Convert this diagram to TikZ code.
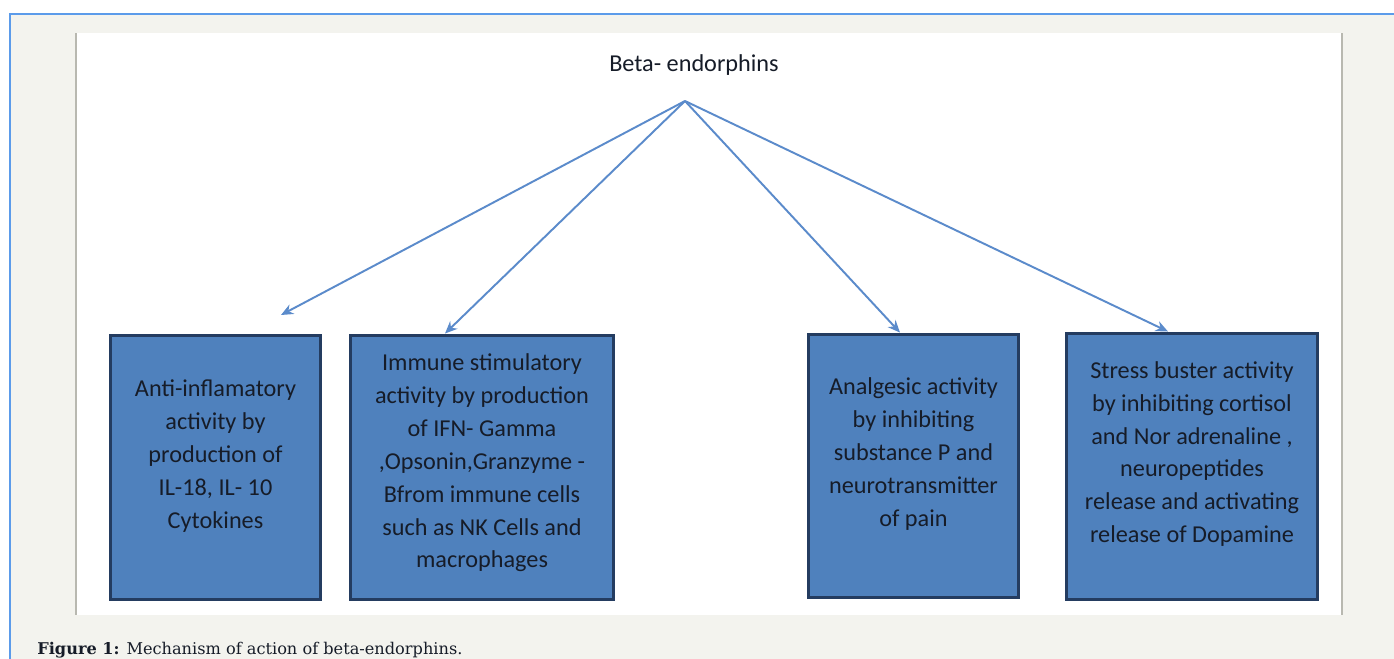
\documentclass[tikz,border=0pt]{standalone}
\usepackage{fontspec}
\setmainfont{Carlito}
\newfontfamily\capfont{DejaVu Serif}
\usetikzlibrary{arrows.meta,positioning}
\definecolor{frameblue}{RGB}{91,155,234}
\definecolor{pagegray}{RGB}{243,243,238}
\definecolor{edgegray}{RGB}{184,184,176}
\definecolor{boxblue}{RGB}{79,129,189}
\definecolor{boxedge}{RGB}{36,60,96}
\definecolor{arrowblue}{RGB}{91,139,203}
\definecolor{inkdark}{RGB}{22,28,40}

\begin{document}
\begin{tikzpicture}[x=0.02cm, y=-0.02cm, >={Stealth[length=7pt,width=6pt]},
  effect/.style={draw=boxedge, line width=1.7pt, fill=boxblue, inner sep=0pt},
  effecttext/.style={align=center, text=inkdark, font=\fontsize{13.8}{18.7}\selectfont},
  link/.style={->, draw=arrowblue, line width=1.1pt}]
\useasboundingbox (0,0) rectangle (1394,659);
% page and figure panel
\fill[pagegray] (10,14) rectangle (1394,659);
\draw[frameblue, line width=0.7pt] (10,659) -- (10,14) -- (1394,14);
\fill[white] (76,33) rectangle (1342,615);
\draw[edgegray, line width=0.7pt] (76,33) -- (76,615) (1342,33) -- (1342,615);

\node[effecttext] (beta) at (694,65) {Beta- endorphins};
\coordinate (hub) at (685,101);

% effect boxes
\node[effect, minimum width=4.22cm, minimum height=5.3cm] (antiinfl) at (215.5,467.5) {};
\node[effect, minimum width=5.28cm, minimum height=5.3cm] (immune) at (482,467.5) {};
\node[effect, minimum width=4.22cm, minimum height=5.28cm] (analgesic) at (913.5,466) {};
\node[effect, minimum width=5.04cm, minimum height=5.34cm] (stress) at (1192,466.5) {};

\node[effecttext] (antiinfltext) at (215.5,456) {Anti-inflamatory\\activity by\\production of\\IL-18, IL- 10\\Cytokines};
\node[effecttext] (immunetext) at (482,463) {Immune stimulatory\\activity by production\\of IFN- Gamma\\,Opsonin,Granzyme -\\Bfrom immune cells\\such as NK Cells and\\macrophages};
\node[effecttext] (analgesictext) at (913.5,454) {Analgesic activity\\by inhibiting\\substance P and\\neurotransmitter\\of pain};
\node[effecttext] (stresstext) at (1192,454) {Stress buster activity\\by inhibiting cortisol\\and Nor adrenaline ,\\neuropeptides\\release and activating\\release of Dopamine};

% arrow tips
\coordinate (tip1) at (281,315);
\coordinate (tip2) at (445,0 |- immune.north);
\coordinate (tip3) at (900,0 |- analgesic.north);
\coordinate (tip4) at (1168,0 |- stress.north);

\draw[link] (hub) -- (tip1);
\draw[link] (hub) -- (tip2);
\draw[link] (hub) -- (tip3);
\draw[link] (hub) -- (tip4);

\node[anchor=base west, inner sep=0pt, text=inkdark, font=\capfont\fontsize{9.2}{11}\selectfont] (caption) at (37,654)
  {\textbf{Figure 1:} Mechanism of action of beta-endorphins.};
\end{tikzpicture}
\end{document}
